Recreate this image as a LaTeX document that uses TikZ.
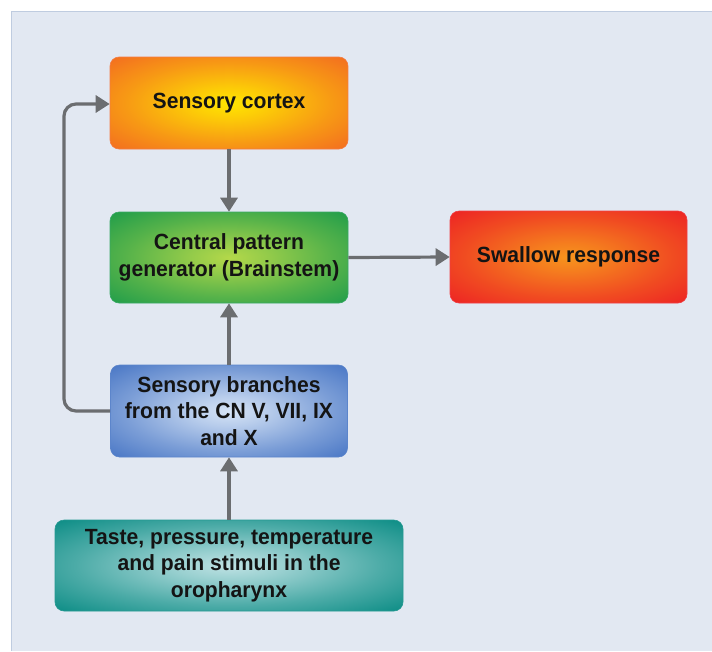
\documentclass[tikz,border=0pt]{standalone}
\usepackage{fontspec}
\setmainfont{Liberation Sans}[FakeStretch=0.96]
\usetikzlibrary{arrows.meta}
\definecolor{panelbg}{HTML}{E2E8F2}
\definecolor{paneledge}{HTML}{BFCCE0}
\definecolor{linegray}{HTML}{6B6D70}
\definecolor{txt}{HTML}{141414}
\definecolor{orangeOut}{HTML}{F26522}
\definecolor{orangeIn}{HTML}{FFE600}
\definecolor{greenOut}{HTML}{16994A}
\definecolor{greenIn}{HTML}{B4D84A}
\definecolor{blueOut}{HTML}{3F6FC2}
\definecolor{blueIn}{HTML}{D6E4F6}
\definecolor{tealOut}{HTML}{00877F}
\definecolor{tealIn}{HTML}{BFE2E4}
\definecolor{redOut}{HTML}{EC1C24}
\definecolor{redIn}{HTML}{F7941D}
\newcommand{\makeglow}[3]{%
  \colorlet{glowa#1}{#2!80!#3}%
  \colorlet{glowb#1}{#2!40!#3}%
  \pgfdeclareradialshading{glow#1}{\pgfpoint{0bp}{0bp}}{%
    color(0bp)=(#2); color(8bp)=(glowa#1); color(22bp)=(glowb#1); color(38bp)=(#3); color(100bp)=(#3)}}
\makeglow{orange}{orangeIn}{orangeOut}
\makeglow{green}{greenIn}{greenOut}
\makeglow{blue}{blueIn}{blueOut}
\makeglow{teal}{tealIn}{tealOut}
\makeglow{red}{redIn}{redOut}
\tikzset{
  flowbox/.style={rectangle, rounded corners=9pt, shading=glow#1, draw=#1Out!85!white, line width=0.6pt,
    align=center, text=txt, inner sep=0pt,
    font=\fontsize{22}{26.5}\selectfont\bfseries},
  link/.style={draw=linegray, line width=3.2pt, -{Triangle[length=14pt,width=17pt]}, rounded corners=12pt}
}
\begin{document}
\begin{tikzpicture}[x=1pt,y=-1pt]
\useasboundingbox (0,0) rectangle (712,651);
\fill[white] (0,0) rectangle (712,651);
\fill[panelbg] (11,11) rectangle (712,651);
\draw[paneledge, line width=1pt] (11,651) -- (11,11) -- (712,11);
\node[flowbox=orange, minimum width=238pt, minimum height=92pt] (cortex) at (229,103) {Sensory cortex};
\node[flowbox=green, minimum width=238pt, minimum height=91pt] (cpg) at (229,257.5) {Central pattern\\generator (Brainstem)};
\node[flowbox=blue, minimum width=237pt, minimum height=92pt] (branch) at (229,411) {Sensory branches\\from the CN V, VII, IX\\and X};
\node[flowbox=teal, minimum width=348pt, minimum height=91pt] (taste) at (229,565.5) {Taste, pressure, temperature\\and pain stimuli in the\\oropharynx};
\node[flowbox=red, minimum width=237pt, minimum height=92pt] (swallow) at (568.5,257) {Swallow response};
\coordinate (loopbot) at (64,411);
\coordinate (looptop) at (64,104);
\draw[link] (cortex) -- (cpg);
\draw[link] (branch) -- (cpg);
\draw[link] (taste) -- (branch);
\draw[link] (cpg.east) -- (swallow.west);
\draw[link] (branch.west) -- (loopbot) -- (looptop) -- (cortex.west |- looptop);
\end{tikzpicture}
\end{document}
